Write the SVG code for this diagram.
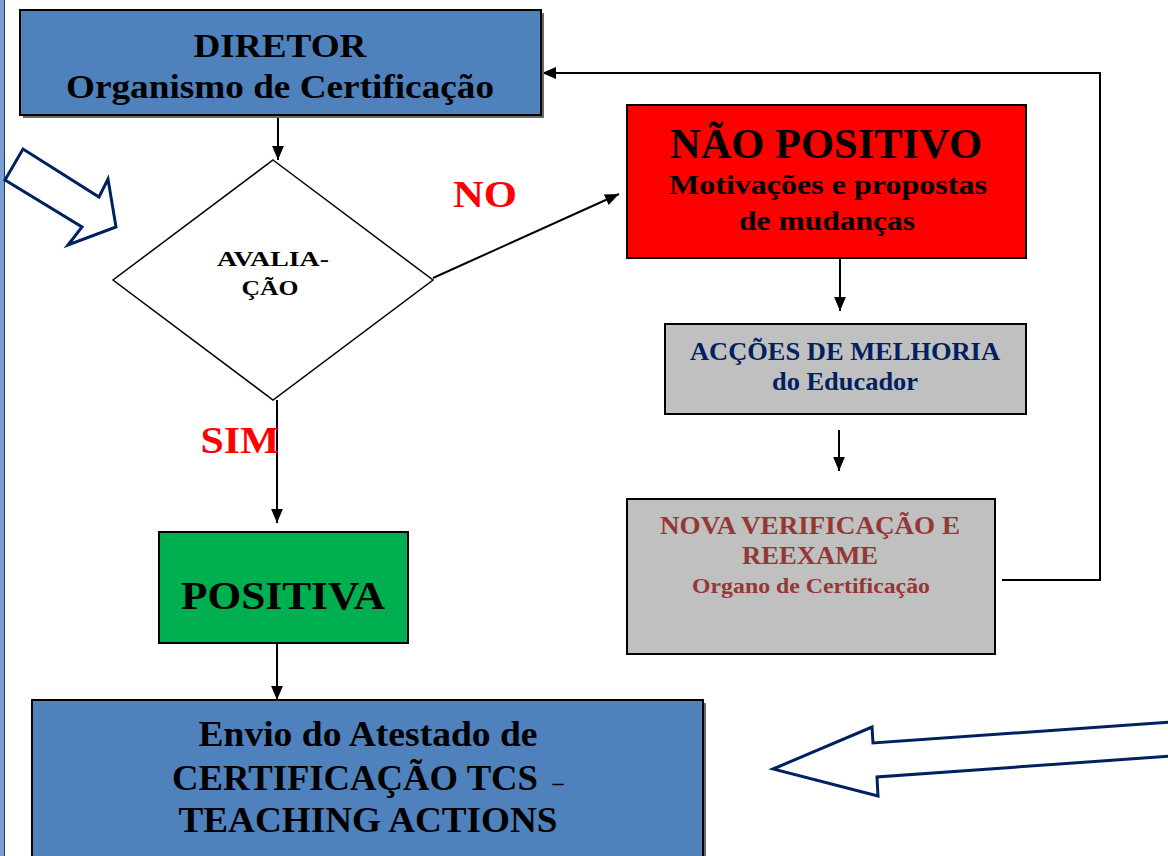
<svg xmlns="http://www.w3.org/2000/svg" width="1168" height="856" viewBox="0 0 1168 856">
<style>
text{font-family:"Liberation Serif","Times New Roman",serif;font-weight:bold;text-anchor:middle}
.box{stroke:#000;stroke-width:2}
.shadow{fill:#6b6b6b}
.conn{stroke:#000;stroke-width:2;fill:none}
.hollow{fill:#fff;stroke:#002060;stroke-width:3;stroke-linejoin:miter}
.blk{fill:#000}
.nav{fill:#002060}
.brn{fill:#953735}
.lbl{fill:#ff0000;font-size:38px}
</style>
<defs>
<marker id="ah" viewBox="0 0 10 10" refX="10" refY="5" markerWidth="7" markerHeight="7" orient="auto" markerUnits="strokeWidth">
<path d="M0,0.8 L10,5 L0,9.2 z" fill="#000"/>
</marker>
</defs>
<rect x="0" y="0" width="1168" height="856" fill="#fff"/>
<g id="left-border">
<rect x="0" y="0" width="4" height="856" fill="#7b9fd0"/>
<line x1="4.5" y1="0" x2="4.5" y2="856" stroke="#1f3864" stroke-width="1"/>
</g>
<g id="connectors">
<line class="conn" x1="278" y1="116" x2="278" y2="160" marker-end="url(#ah)"/>
<line class="conn" x1="433" y1="278" x2="619" y2="194" marker-end="url(#ah)"/>
<line class="conn" x1="840" y1="259" x2="840" y2="311" marker-end="url(#ah)"/>
<line class="conn" x1="839" y1="430" x2="839" y2="471" marker-end="url(#ah)"/>
<polyline class="conn" points="1002,580 1100,580 1100,73 542,73" marker-end="url(#ah)"/>
<line class="conn" x1="277" y1="400" x2="277" y2="523" marker-end="url(#ah)"/>
<line class="conn" x1="277" y1="644" x2="277" y2="700" marker-end="url(#ah)"/>
</g>
<g id="diretor">
<rect class="shadow" x="23" y="13" width="521" height="105"/>
<rect class="box" x="20" y="10" width="521" height="105" fill="#4f81bd"/>
<text x="280" y="57" font-size="34" class="blk" textLength="173" lengthAdjust="spacingAndGlyphs">DIRETOR</text>
<text x="280" y="98" font-size="34" class="blk" textLength="428" lengthAdjust="spacingAndGlyphs">Organismo de Certificação</text>
</g>
<g id="avaliacao">
<polygon points="273,160 433,280 273,400 113,280" fill="#fff" stroke="#000" stroke-width="1.5"/>
<text x="273" y="266" font-size="21" class="blk" textLength="112" lengthAdjust="spacingAndGlyphs">AVALIA-</text>
<text x="270" y="295" font-size="21" class="blk" textLength="57" lengthAdjust="spacingAndGlyphs">ÇÃO</text>
</g>
<g id="arrow-hollow-left">
<polygon class="hollow" points="5,180 23,149 99,197 108,179 116,227 68,245 82,227"/>
</g>
<g id="label-no">
<text x="485" y="207" class="lbl" textLength="64" lengthAdjust="spacingAndGlyphs">NO</text>
</g>
<g id="label-sim">
<text x="240" y="453" class="lbl" textLength="79" lengthAdjust="spacingAndGlyphs">SIM</text>
</g>
<g id="nao-positivo">
<rect class="box" x="627" y="105" width="399" height="153" fill="#ff0000"/>
<text x="826" y="158" font-size="42" class="blk" textLength="312" lengthAdjust="spacingAndGlyphs">NÃO POSITIVO</text>
<text x="828" y="194" font-size="27" class="blk" textLength="318" lengthAdjust="spacingAndGlyphs">Motivações e propostas</text>
<text x="827" y="230" font-size="27" class="blk" textLength="176" lengthAdjust="spacingAndGlyphs">de mudanças</text>
</g>
<g id="accoes">
<rect class="box" x="665" y="324" width="361" height="90" fill="#c0c0c0"/>
<text x="845" y="360" font-size="25" class="nav" textLength="310" lengthAdjust="spacingAndGlyphs">ACÇÕES DE MELHORIA</text>
<text x="845" y="390" font-size="25" class="nav" textLength="146" lengthAdjust="spacingAndGlyphs">do Educador</text>
</g>
<g id="nova-verificacao">
<rect class="box" x="627" y="499" width="368" height="155" fill="#c0c0c0"/>
<text x="810" y="534" font-size="25" class="brn" textLength="300" lengthAdjust="spacingAndGlyphs">NOVA VERIFICAÇÃO E</text>
<text x="810" y="564" font-size="25" class="brn" textLength="136" lengthAdjust="spacingAndGlyphs">REEXAME</text>
<text x="811" y="593" font-size="22" class="brn" textLength="238" lengthAdjust="spacingAndGlyphs">Organo de Certificação</text>
</g>
<g id="positiva">
<rect class="box" x="159" y="532" width="249" height="111" fill="#00b050"/>
<text x="283" y="609" font-size="40" class="blk" textLength="204" lengthAdjust="spacingAndGlyphs">POSITIVA</text>
</g>
<g id="envio">
<rect class="shadow" x="35" y="703" width="671" height="160"/>
<rect class="box" x="32" y="700" width="671" height="160" fill="#4f81bd"/>
<text x="368" y="746" font-size="36" class="blk" textLength="339" lengthAdjust="spacingAndGlyphs">Envio do Atestado de</text>
<text x="355" y="790" font-size="36" class="blk" textLength="366" lengthAdjust="spacingAndGlyphs">CERTIFICAÇÃO TCS</text>
<text x="558" y="790" font-size="22" class="blk">–</text>
<text x="368" y="832" font-size="36" class="blk" textLength="379" lengthAdjust="spacingAndGlyphs">TEACHING ACTIONS</text>
</g>
<g id="arrow-hollow-right">
<polygon class="hollow" points="1172,722 873,743 872,727 773,769 878,796 877,777 1172,756"/>
</g>
</svg>
